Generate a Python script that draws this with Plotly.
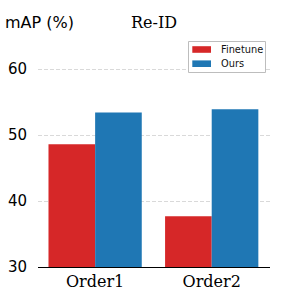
import plotly.graph_objects as go

categories = ["Order1", "Order2"]
finetune = [48.6, 37.7]
ours = [53.4, 53.9]
series_names = ["Finetune", "Ours"]
series_colors = ["#d62728", "#1f77b4"]
yticks = [30, 40, 50, 60]

L, R, T, B = 38, 30, 36, 33
W = H = 300
pw, ph = W - L - R, H - T - B


def px(x):
    return (x - L) / pw


def py(y):
    return (H - B - y) / ph


fig = go.Figure()
for name, vals, col in zip(series_names, [finetune, ours], series_colors):
    fig.add_trace(go.Bar(x=categories, y=vals, name=name,
                         marker=dict(color=col, line=dict(width=0))))

# matplotlib-style legend box: white fill, then four border lines
bx0, bx1, by0, by1 = 188.5, 265.5, 41.5, 72.5
shapes = [dict(type="rect", xref="paper", yref="paper", layer="above",
               x0=px(bx0), x1=px(bx1), y0=py(by1), y1=py(by0),
               fillcolor="white", line=dict(width=0))]
edge = dict(type="line", xref="paper", yref="paper", layer="above",
            line=dict(color="#bdbdbd", width=1))
shapes += [
    dict(edge, x0=px(bx0), x1=px(bx1), y0=py(by0), y1=py(by0)),
    dict(edge, x0=px(bx0), x1=px(bx1), y0=py(by1), y1=py(by1)),
    dict(edge, x0=px(bx0), x1=px(bx0), y0=py(by0), y1=py(by1)),
    dict(edge, x0=px(bx1), x1=px(bx1), y0=py(by0), y1=py(by1)),
]
annotations = []
row_y = [49.5, 63.7]
for i, (name, col) in enumerate(zip(series_names, series_colors)):
    cy = row_y[i]
    shapes.append(dict(type="rect", xref="paper", yref="paper", layer="above",
                       x0=px(192.3), x1=px(211), y0=py(cy + 3.3), y1=py(cy - 3.3),
                       fillcolor=col, line=dict(width=0)))
    annotations.append(dict(text=name, x=px(218.5), y=py(cy), xref="paper", yref="paper",
                            xanchor="left", yanchor="middle", showarrow=False,
                            font=dict(family="DejaVu Sans", size=9.8, color="#111111")))

annotations += [
    dict(text="mAP (%)", x=px(3), y=py(22), xref="paper", yref="paper",
         xanchor="left", yanchor="middle", showarrow=False,
         font=dict(family="DejaVu Sans", size=16, color="black")),
    dict(text="Re-ID", x=px(154), y=py(22), xref="paper", yref="paper",
         xanchor="center", yanchor="middle", showarrow=False,
         font=dict(family="DejaVu Serif", size=16, color="black")),
]

fig.update_layout(
    width=W, height=H,
    margin=dict(l=L, r=R, t=T, b=B, autoexpand=False),
    paper_bgcolor="white", plot_bgcolor="white",
    barmode="group", bargap=0.2, bargroupgap=0,
    showlegend=False,
    xaxis=dict(range=[-0.49, 1.5], showline=True, linecolor="black", linewidth=1,
               ticks="", showgrid=False, automargin=False,
               tickfont=dict(family="DejaVu Serif", size=16, color="black")),
    yaxis=dict(range=[30, 65], tickvals=yticks, showline=False, ticks="",
               showgrid=True, gridcolor="#d9d9d9", griddash="4px,2px", gridwidth=1,
               zeroline=False, automargin=False, ticklabelstandoff=10,
               tickfont=dict(family="DejaVu Sans", size=15, color="black")),
    shapes=shapes,
    annotations=annotations,
)

fig.write_html("out.html", config={"displayModeBar": False},
               post_script="document.body.style.margin='0';")
